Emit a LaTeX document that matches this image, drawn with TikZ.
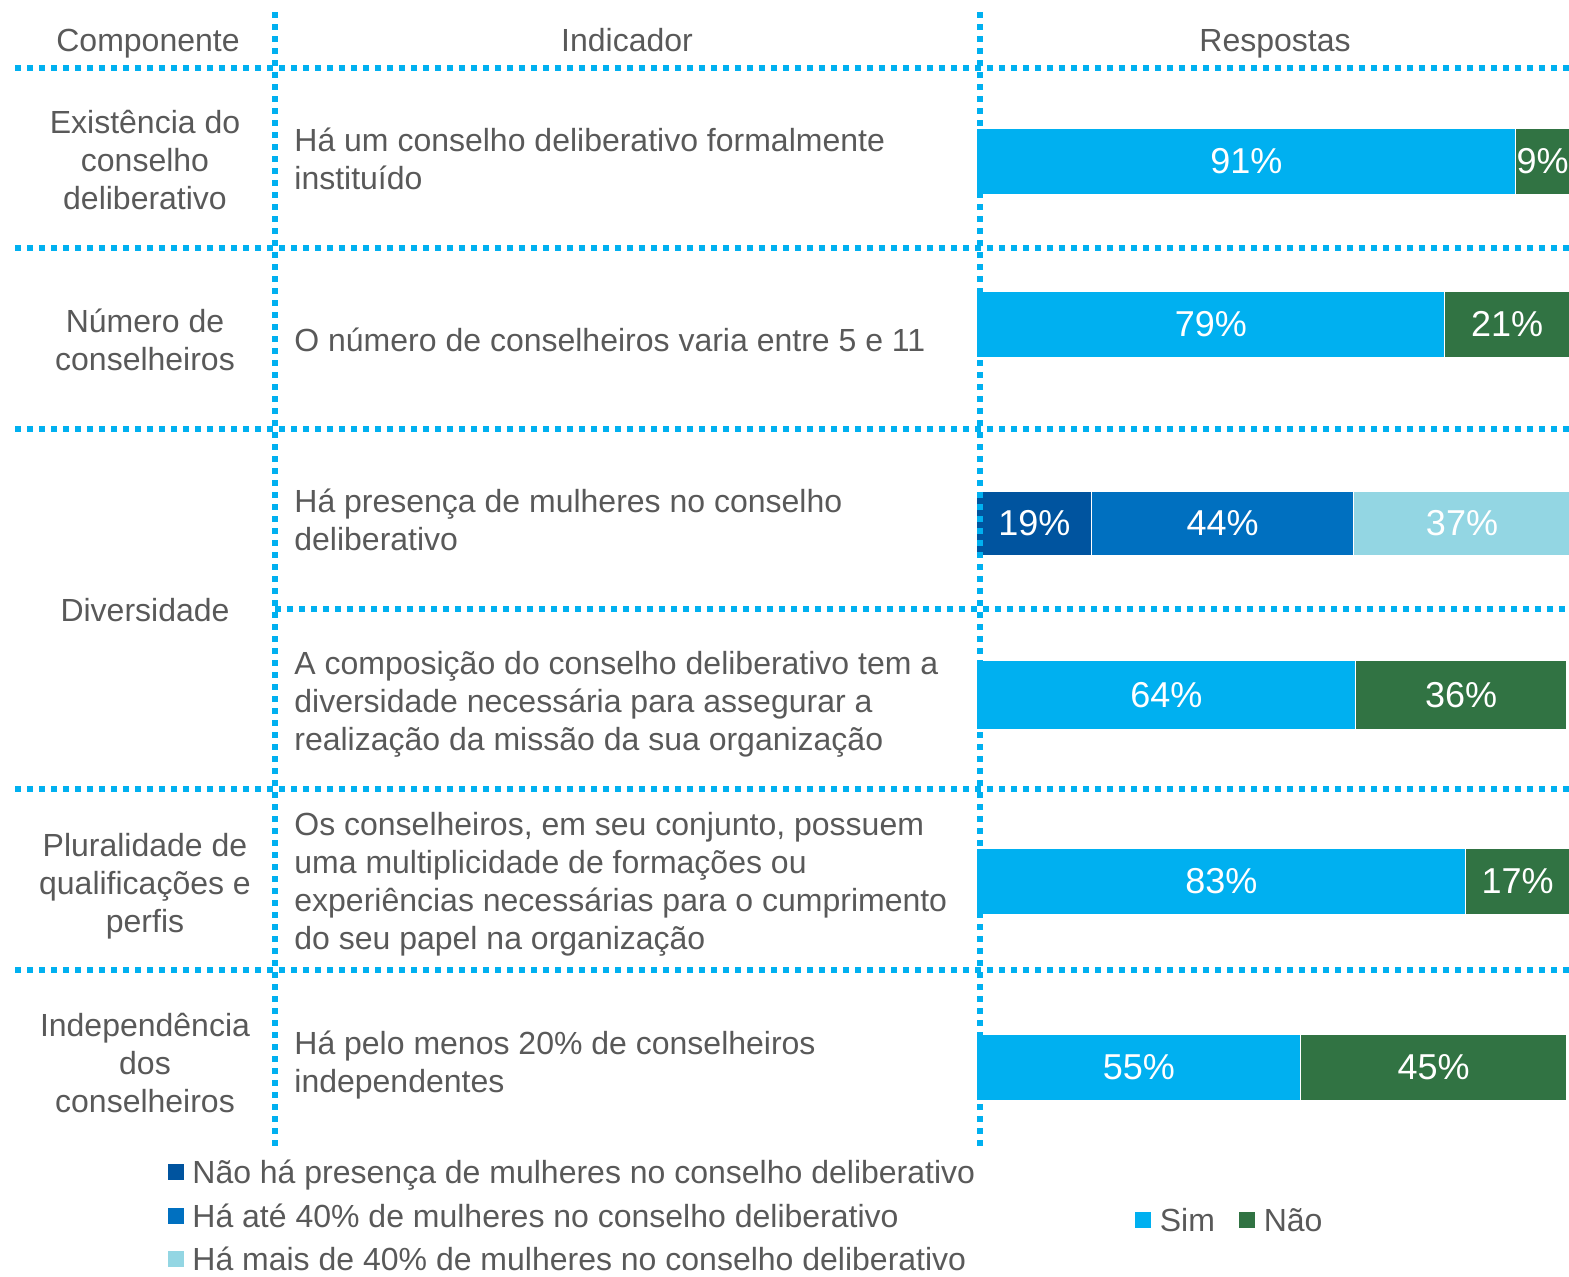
\documentclass[tikz,border=0pt]{standalone}
\usepackage{fontspec}
\setmainfont{Liberation Sans}
\usetikzlibrary{positioning}
\definecolor{simblue}{RGB}{0,176,240}
\definecolor{naogreen}{RGB}{49,115,67}
\definecolor{zeroblue}{RGB}{0,84,159}
\definecolor{lowblue}{RGB}{0,112,192}
\definecolor{highblue}{RGB}{147,214,227}
\definecolor{txtgray}{RGB}{89,89,89}

\begin{document}
\begin{tikzpicture}[x=0.5pt, y=-0.5pt,
    txt/.style={inner sep=0pt, text=txtgray, font=\fontsize{16}{19}\selectfont},
    comp/.style={txt, align=center},
    indic/.style={txt, align=left, anchor=west},
    seg/.style={inner sep=0pt, anchor=west, minimum height=32.5pt, text=white, font=\fontsize{18}{21}\selectfont},
    grid/.style={draw=simblue, line width=3pt, dash pattern=on 3pt off 3pt},
    key/.style={inner sep=0pt, minimum size=8pt}
]
\useasboundingbox (0,0) rectangle (1569,1276);

% headers
\node[txt, anchor=base] (hcomp) at (148,51.5) {Componente};
\node[txt, anchor=base] (hind) at (627,51.5) {Indicador};
\node[txt, anchor=base] (hresp) at (1275,51.5) {Respostas};

% components
\node[comp] (c1) at (145,160) {Existência do\\conselho\\deliberativo};
\node[comp] (c2) at (145,340) {Número de\\conselheiros};
\node[comp] (c3) at (145,610) {Diversidade};
\node[comp] (c4) at (145,886) {Pluralidade de\\qualificações e\\perfis};
\node[comp] (c5) at (145,1063) {Independência\\dos\\conselheiros};

% indicators
\node[indic] (i1) at (294,159) {Há um conselho deliberativo formalmente\\instituído};
\node[indic] (i2) at (294,340) {O número de conselheiros varia entre 5 e 11};
\node[indic] (i3) at (294,520) {Há presença de mulheres no conselho\\deliberativo};
\node[indic] (i4) at (294,704) {A composição do conselho deliberativo tem a\\diversidade necessária para assegurar a\\realização da missão da sua organização};
\node[indic] (i5) at (294,884.5) {Os conselheiros, em seu conjunto, possuem\\uma multiplicidade de formações ou\\experiências necessárias para o cumprimento\\do seu papel na organização};
\node[indic] (i6) at (294,1065) {Há pelo menos 20\% de conselheiros\\independentes};

% bars
\node[seg, fill=simblue, minimum width=269pt] (s1) at (977,161.5) {91\%};
\node[seg, fill=naogreen, minimum width=26.5pt, right=0pt of s1] (n1) {9\%};

\node[seg, fill=simblue, minimum width=233.5pt] (s2) at (977,324.5) {79\%};
\node[seg, fill=naogreen, minimum width=62pt, right=0pt of s2] (n2) {21\%};

\node[seg, fill=zeroblue, minimum width=57pt, minimum height=31.5pt] (z3) at (977,523.5) {19\%};
\node[seg, fill=lowblue, minimum width=130.5pt, minimum height=31.5pt, right=0pt of z3] (l3) {44\%};
\node[seg, fill=highblue, minimum width=108pt, minimum height=31.5pt, right=0pt of l3] (h3) {37\%};

\node[seg, fill=simblue, minimum width=189pt, minimum height=34pt] (s4) at (977,695) {64\%};
\node[seg, fill=naogreen, minimum width=105pt, minimum height=34pt, right=0pt of s4] (n4) {36\%};

\node[seg, fill=simblue, minimum width=244pt] (s5) at (977,881.5) {83\%};
\node[seg, fill=naogreen, minimum width=51.5pt, right=0pt of s5] (n5) {17\%};

\node[seg, fill=simblue, minimum width=161.5pt] (s6) at (977,1067.5) {55\%};
\node[seg, fill=naogreen, minimum width=132.5pt, right=0pt of s6] (n6) {45\%};

% dotted rules
\draw[grid] (275,12) -- (275,1150);
\draw[grid] (980,12) -- (980,1150);
\foreach \y in {68,248,429,789,970}
  \draw[grid] (15,\y) -- (1569,\y);
\draw[grid] (275,609) -- (1569,609);

% legend
\node[key, fill=zeroblue] (k1) at (176,1172) {};
\node[txt, anchor=base west] (t1) at (192,1183) {Não há presença de mulheres no conselho deliberativo};
\node[key, fill=lowblue] (k2) at (176,1216) {};
\node[txt, anchor=base west] (t2) at (192,1227) {Há até 40\% de mulheres no conselho deliberativo};
\node[key, fill=highblue] (k3) at (176,1259) {};
\node[txt, anchor=base west] (t3) at (192,1270) {Há mais de 40\% de mulheres no conselho deliberativo};

\node[key, fill=simblue] (ksim) at (1143,1220) {};
\node[txt, right=4pt of ksim] (tsim) {Sim};
\node[key, fill=naogreen] (knao) at (1247,1220) {};
\node[txt, right=4pt of knao] (tnao) {Não};

\end{tikzpicture}
\end{document}
